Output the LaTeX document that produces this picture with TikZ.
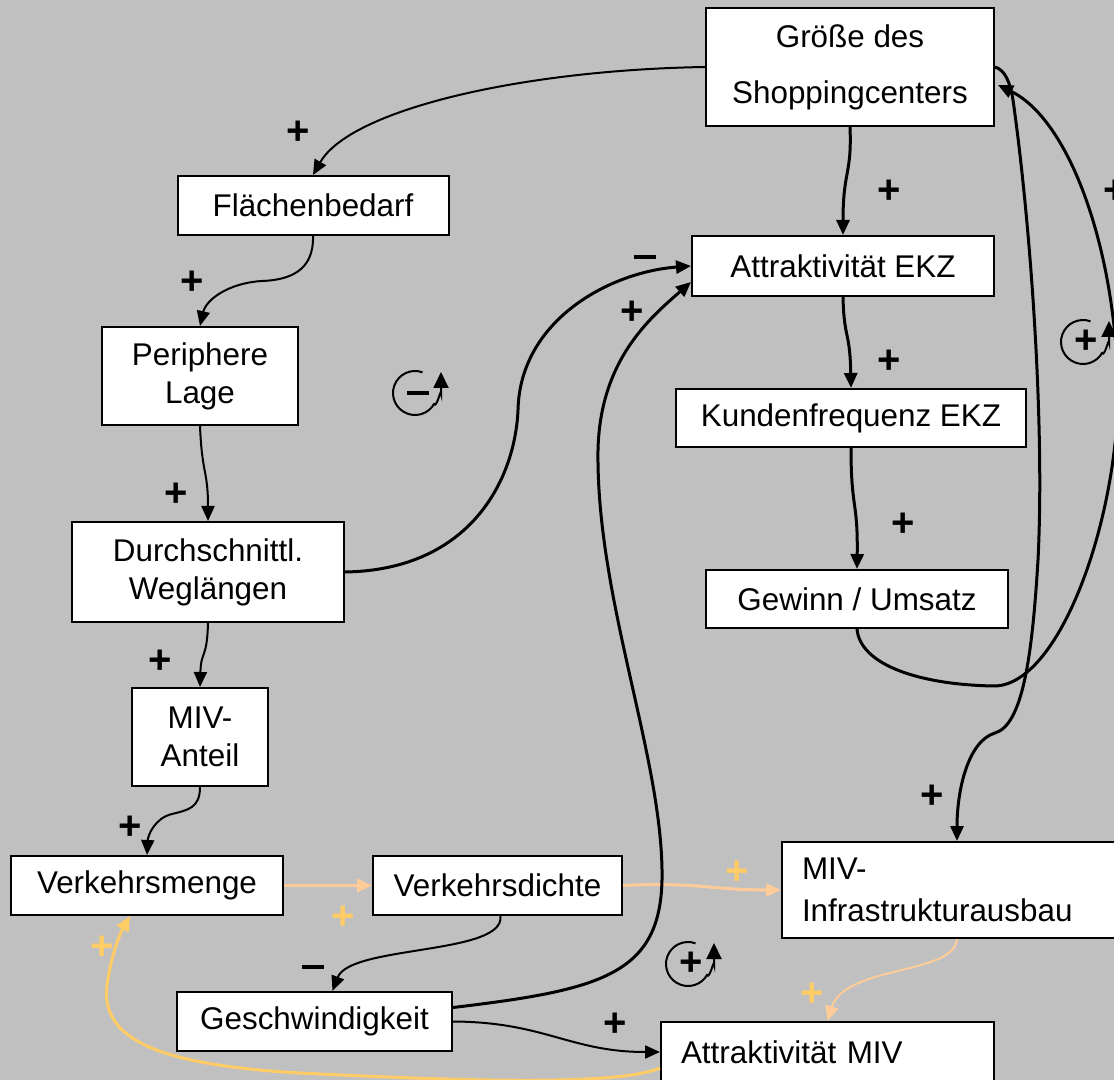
\documentclass[tikz,border=0pt]{standalone}
\usepackage{fontspec}
\setmainfont{Liberation Sans}
\usetikzlibrary{arrows.meta,calc}

\definecolor{bggray}{HTML}{C0C0C0}
\definecolor{peach}{HTML}{FFCC99}
\definecolor{gold}{HTML}{FFCC66}

\newcommand{\boxfont}{\fontsize{15.7}{19}\selectfont}
\newcommand{\psign}{{\fontsize{20}{20}\selectfont\bfseries +}}
\newcommand{\msign}{\rule{11pt}{2pt}}

\tikzset{
  box/.style={draw, line width=1pt, fill=white, inner sep=0pt, font=\boxfont},
  leftbox/.style={box, align=left, inner xsep=10pt},
  sign/.style={inner sep=0pt},
  thin link/.style={line width=1pt, -{Triangle[length=7.5pt,width=6.5pt]}},
  thick link/.style={line width=1.5pt, -{Triangle[length=7.5pt,width=6.5pt]}},
  peach link/.style={line width=1.5pt, peach, -{Triangle[length=7.5pt,width=6.5pt]}},
  gold link/.style={line width=1.5pt, gold, -{Triangle[length=7.5pt,width=6.5pt]}},
  pics/loopmark/.style={code={
    \begin{scope}[yscale=-1]
      \draw[line width=1pt, -{Triangle[length=8pt,width=7.5pt]}]
        (70:22) arc[start angle=70, end angle=330, radius=22]
        to[out=60, in=-90] (26,0) -- (26,21);
      \node[sign] at (3,0) {#1};
    \end{scope}
  }},
}

\begin{document}
\begin{tikzpicture}[x=0.5pt,y=-0.5pt]
\useasboundingbox (0,0) rectangle (1114,1080);
\fill[bggray] (0,0) rectangle (1114,1080);

% boxes
\node[box, minimum width=144pt, minimum height=59pt, align=center, font=\fontsize{15.7}{28}\selectfont] (gr) at (850,67) {Größe des\\Shoppingcenters};
\node[box, minimum width=135.5pt, minimum height=29.5pt] (fl) at (313,205.5) {Flächenbedarf};
\node[box, minimum width=98pt, minimum height=49pt, align=center] (pe) at (200,376) {Periphere\\Lage};
\node[box, minimum width=136pt, minimum height=50pt, align=center] (du) at (208,572) {Durchschnittl.\\Weglängen};
\node[box, minimum width=68pt, minimum height=49pt, align=center] (mi) at (200,737) {MIV-\\Anteil};
\node[box, minimum width=136pt, minimum height=29.5pt] (vm) at (147,885.5) {Verkehrsmenge};
\node[box, minimum width=124.5pt, minimum height=29.5pt] (vd) at (497.5,885.5) {Verkehrsdichte};
\node[box, minimum width=137.5pt, minimum height=29.5pt] (ge) at (314.5,1021.5) {Geschwindigkeit};
\node[leftbox, text width=146.5pt, minimum height=30pt] (am) at (827.5,1052) {Attraktivität MIV};
\node[leftbox, text width=148pt, minimum height=48pt, font=\fontsize{15.7}{21}\selectfont] (mr) at (950,890) {MIV-\\Infrastrukturausbau};
\node[box, minimum width=151pt, minimum height=30pt] (ae) at (843,266) {Attraktivität EKZ};
\node[box, minimum width=175pt, minimum height=29pt] (kf) at (851,418) {Kundenfrequenz EKZ};
\node[box, minimum width=151pt, minimum height=29pt] (gw) at (857,599) {Gewinn / Umsatz};

% left chain
\draw[thin link] (gr.west) .. controls (520,70) and (350,110) .. (fl.north);
\draw[thin link] (fl.south) .. controls (314,272) and (288,280) .. (262,281) .. controls (228,283) and (206,300) .. (pe.north);
\draw[thin link] (pe.south) .. controls (202,475) and (208,470) .. (du.north);
\draw[thin link] (du.south) .. controls (207,660) and (201,650) .. (mi.north);
\draw[thin link] (mi.south) .. controls (200,808) and (188,810) .. (172,814) .. controls (155,818) and (148,835) .. (vm.north);

% bottom row
\draw[peach link] (vm.east) -- (vd.west);
\draw[peach link] (vd.east) .. controls (700,882) and (710,890) .. (mr.west);
\draw[thin link] ($(vd.south)+(3,0)$) .. controls (505,955) and (350,945) .. ($(ge.north)+(18,0)$);
\draw[thin link] (ge.east) .. controls (545,1022) and (570,1052) .. (am.west);
\draw[peach link, line width=1pt] ($(mr.south)+(7,0)$) .. controls (955,975) and (845,965) .. (am.north);
\draw[gold link] ($(am.west)+(0,16)$) .. controls (620,1085) and (480,1082) .. (300,1073) .. controls (160,1065) and (100,1040) .. (107,985) .. controls (112,950) and (122,930) .. ($(vm.south)+(-17,0)$);

% long links
\draw[thick link] ($(ge.east)+(0,-14)$) .. controls (600,990) and (660,975) .. (662,880) .. controls (664,760) and (596,600) .. (598,450) .. controls (600,360) and (650,318) .. ($(ae.west)+(0,16)$);
\draw[thick link] (du.east) .. controls (470,570) and (515,480) .. (518,410) .. controls (520,320) and (610,272) .. (ae.west);

% right chain
\draw[thick link] (gr.south) .. controls (852,175) and (843,170) .. (ae.north);
\draw[thick link] (ae.south) .. controls (844,340) and (850,330) .. (kf.north);
\draw[thick link] (kf.south) .. controls (851,510) and (858,500) .. (gw.north);
\draw[thick link] (gw.south) .. controls (860,665) and (920,685) .. (995,686) .. controls (1060,684) and (1118,520) .. (1118,390) .. controls (1116,250) and (1070,120) .. ($(gr.east)+(3,18)$);
\draw[thick link] (gr.east) .. controls (1005,70) and (1010,82) .. (1013,100) .. controls (1030,220) and (1045,420) .. (1038,560) .. controls (1032,660) and (1022,725) .. (995,733) .. controls (968,741) and (957,790) .. ($(mr.north)+(7,0)$);

% polarity signs
\node[sign] (p1) at (298,133) {\psign};
\node[sign] (p2) at (192,283) {\psign};
\node[sign] (p3) at (176,495) {\psign};
\node[sign] (p4) at (160,662) {\psign};
\node[sign] (p5) at (130,828) {\psign};
\node[sign, text=gold] (p6) at (343,918) {\psign};
\node[sign, text=gold] (p7) at (737,873) {\psign};
\node[sign] (m1) at (313,967) {\msign};
\node[sign] (p8) at (615,1025) {\psign};
\node[sign, text=gold] (p9) at (812,995) {\psign};
\node[sign, text=gold] (p10) at (102,948) {\psign};
\node[sign] (p11) at (632,313) {\psign};
\node[sign] (m2) at (645,257) {\msign};
\node[sign] (p12) at (889,192) {\psign};
\node[sign] (p13) at (889,362) {\psign};
\node[sign] (p14) at (903,525) {\psign};
\node[sign] (p15) at (932,797) {\psign};
\node[sign] (p16) at (1115,192) {\psign};

% loop marks
\pic (loopA) at (415,393) {loopmark=\msign};
\pic (loopB) at (688,964) {loopmark=\psign};
\pic (loopC) at (1083,342) {loopmark=\psign};
\end{tikzpicture}
\end{document}
